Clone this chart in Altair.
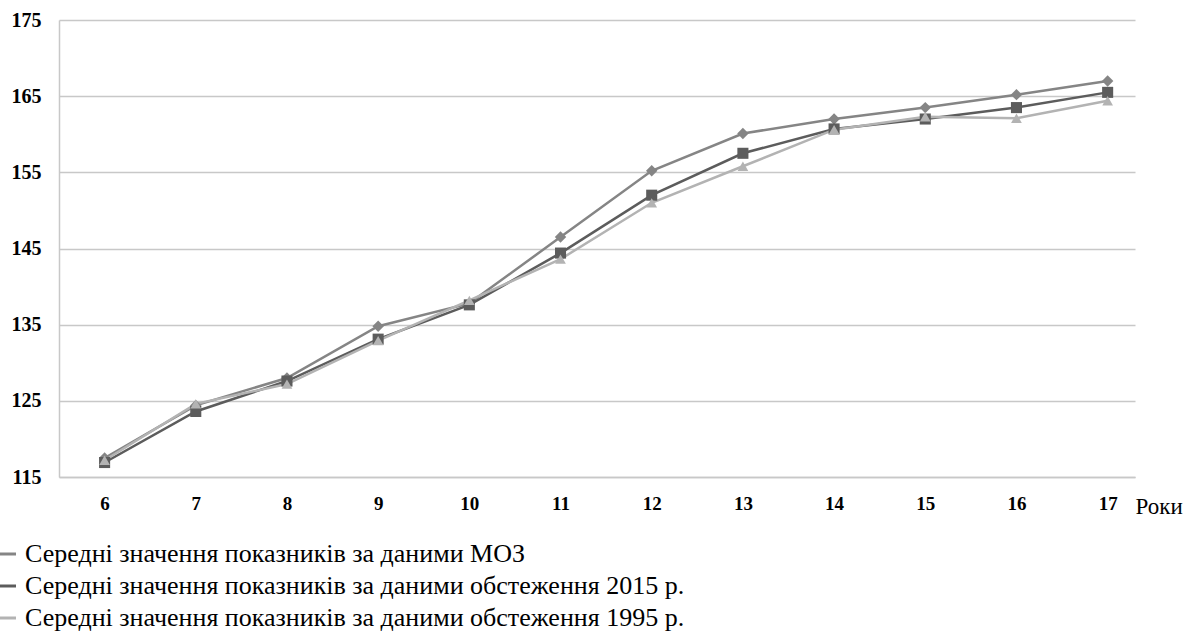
import altair as alt
import pandas as pd

# Age (years) on the x axis
ages = [6, 7, 8, 9, 10, 11, 12, 13, 14, 15, 16, 17]

# Series names as shown in the legend
names = [
    "Середні значення показників за даними МОЗ",
    "Середні значення показників за даними обстеження 2015 р.",
    "Середні значення показників за даними обстеження 1995 р.",
]

# Mean body length values, cm
moz = [117.5, 124.4, 128.0, 134.8, 137.8, 146.5, 155.2, 160.1, 162.0, 163.5, 165.2, 167.0]
survey_2015 = [116.9, 123.6, 127.6, 133.1, 137.6, 144.4, 152.0, 157.5, 160.7, 162.0, 163.5, 165.5]
survey_1995 = [117.2, 124.6, 127.2, 132.9, 138.2, 143.6, 151.0, 155.8, 160.6, 162.3, 162.1, 164.4]

y_ticks = [115, 125, 135, 145, 155, 165, 175]

colors = ["#858585", "#5c5c5c", "#b3b3b3"]
shapes = ["diamond", "square", "triangle-up"]
sizes = [130, 115, 125]

rows = []
for name, vals in zip(names, [moz, survey_2015, survey_1995]):
    for a, v in zip(ages, vals):
        rows.append({"age": a, "value": v, "series": name, "marker": name})
df = pd.DataFrame(rows)

serif = "Liberation Serif"
grid_col = "#c8c8c8"

x_enc = alt.X(
    "age:Q",
    scale=alt.Scale(domain=[5.5, 17.3], nice=False, zero=False),
    axis=alt.Axis(
        values=ages, format="d", grid=False, ticks=False, tickSize=0,
        domainColor=grid_col, domainWidth=1.5,
        labelFont=serif, labelFontWeight="bold", labelFontSize=19,
        labelColor="#000000", labelPadding=26, labelBaseline="middle",
        title="Роки", titleFont=serif, titleFontWeight="normal",
        titleFontSize=23, titleColor="#000000", titleAlign="left",
        titleBaseline="middle", titleX=1076, titleY=29,
    ),
)
y_enc = alt.Y(
    "value:Q",
    scale=alt.Scale(domain=[115, 175], nice=False, zero=False),
    axis=alt.Axis(
        values=y_ticks, grid=True, gridColor=grid_col, gridWidth=1.5,
        ticks=False, tickSize=0, domainColor=grid_col, domainWidth=1.5,
        labelFont=serif, labelFontWeight="bold", labelFontSize=20,
        labelColor="#000000", labelPadding=18, title=None,
    ),
)

base = alt.Chart(df)

lines = base.mark_line(strokeWidth=2.5).encode(
    x=x_enc,
    y=y_enc,
    color=alt.Color(
        "series:N",
        sort=names,
        scale=alt.Scale(domain=names, range=colors),
        legend=alt.Legend(
            title=None, orient="none", legendX=-66, legendY=521,
            direction="vertical", symbolType="stroke", symbolStrokeWidth=3,
            symbolSize=400, labelFont=serif, labelFontSize=26,
            labelColor="#000000", labelLimit=0, rowPadding=6, padding=0,
            labelOffset=6,
        ),
    ),
    order="age:Q",
)

points = base.mark_point(filled=True, opacity=1).encode(
    x="age:Q",
    y="value:Q",
    color=alt.Color("marker:N", scale=alt.Scale(domain=names, range=colors), legend=None),
    shape=alt.Shape("marker:N", scale=alt.Scale(domain=names, range=shapes), legend=None),
    size=alt.Size("marker:N", scale=alt.Scale(domain=names, range=sizes), legend=None),
)

chart = (
    alt.layer(lines, points)
    .resolve_scale(color="independent")
    .properties(
        width=1076,
        height=457,
        autosize=alt.AutoSizeParams(type="none"),
        padding={"left": 59, "top": 20, "right": 57, "bottom": 155},
        background="white",
    )
    .configure_view(stroke=None)
)

chart.save("out.html", embed_options={"renderer": "svg", "actions": False})
